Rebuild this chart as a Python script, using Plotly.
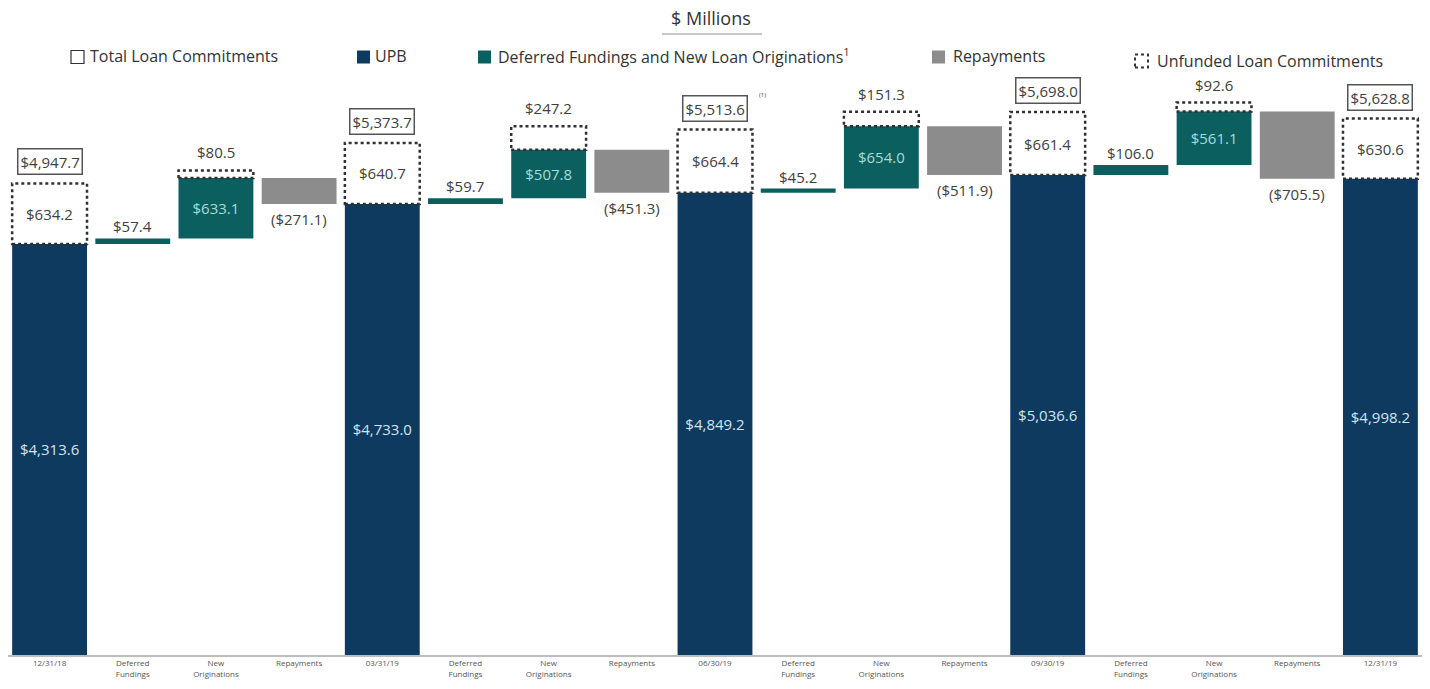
import plotly.graph_objects as go

# ---------------- data ----------------
categories = ["12/31/18", "Deferred<br>Fundings", "New<br>Originations", "Repayments",
              "03/31/19", "Deferred<br>Fundings", "New<br>Originations", "Repayments",
              "06/30/19", "Deferred<br>Fundings", "New<br>Originations", "Repayments",
              "09/30/19", "Deferred<br>Fundings", "New<br>Originations", "Repayments",
              "12/31/19"]
upb = [4313.6, 4733.0, 4849.2, 5036.6, 4998.2]
unfunded_quarter = [634.2, 640.7, 664.4, 661.4, 630.6]
total_commitments = [4947.7, 5373.7, 5513.6, 5698.0, 5628.8]
deferred_fundings = [57.4, 59.7, 45.2, 106.0]
new_originations = [633.1, 507.8, 654.0, 561.1]
new_unfunded = [80.5, 247.2, 151.3, 92.6]
repayments = [-271.1, -451.3, -511.9, -705.5]

# ---------------- style ----------------
NAVY = "#0d3a5e"
TEAL = "#0b5f5f"
GRAY = "#8c8c8c"
TXT = "#404040"
FONT = "Open Sans"
LBL = 15
W, H = 1430, 689
ML, MR, MT, MB = 8, 8, 60, 34
SCALE = 0.0953  # px per $M
YMAX = (H - MT - MB) / SCALE


def money(v):
    s = "${:,.1f}".format(abs(v))
    return "(" + s + ")" if v < 0 else s


def px(x):
    return (x - ML) / (W - ML - MR)


def py(y):
    return (H - MB - y) / (H - MT - MB)


q_x = [4 * i for i in range(len(upb))]
d_x = [4 * i + 1 for i in range(len(deferred_fundings))]
n_x = [4 * i + 2 for i in range(len(new_originations))]
r_x = [4 * i + 3 for i in range(len(repayments))]

d_base = [upb[i] for i in range(len(deferred_fundings))]
n_base = [upb[i] + deferred_fundings[i] for i in range(len(new_originations))]
n_top = [n_base[i] + new_originations[i] for i in range(len(new_originations))]
r_base = [n_top[i] + repayments[i] for i in range(len(repayments))]

fig = go.Figure()
BW = 0.9

fig.add_trace(go.Bar(x=q_x, y=upb, width=BW, marker=dict(color=NAVY, line=dict(width=0)),
                     text=[money(v) for v in upb], textposition="inside",
                     insidetextanchor="middle",
                     textfont=dict(color="#d4e3f0", size=LBL, family=FONT),
                     showlegend=False, hoverinfo="skip"))
fig.add_trace(go.Bar(x=d_x, y=deferred_fundings, base=d_base, width=BW,
                     marker=dict(color=TEAL, line=dict(width=0)), showlegend=False,
                     hoverinfo="skip"))
fig.add_trace(go.Bar(x=n_x, y=new_originations, base=n_base, width=BW,
                     marker=dict(color=TEAL, line=dict(width=0)),
                     text=[money(v) for v in new_originations], textposition="inside",
                     insidetextanchor="middle",
                     textfont=dict(color="#a6dcd8", size=LBL, family=FONT),
                     showlegend=False, hoverinfo="skip"))
fig.add_trace(go.Bar(x=r_x, y=[-v for v in repayments], base=r_base, width=BW,
                     marker=dict(color=GRAY, line=dict(width=0)), showlegend=False,
                     hoverinfo="skip"))

shapes = []
ann = []
dot = dict(color="#303030", width=2.5, dash="dot")


def A(**kw):
    kw.setdefault("showarrow", False)
    kw.setdefault("xanchor", "center")
    kw.setdefault("yanchor", "middle")
    ann.append(kw)


# quarter unfunded dotted boxes and totals
for i in range(len(upb)):
    x = q_x[i]
    shapes.append(dict(type="rect", xref="x", yref="y", x0=x - BW / 2, x1=x + BW / 2,
                       y0=upb[i], y1=upb[i] + unfunded_quarter[i], line=dot,
                       fillcolor="rgba(0,0,0,0)"))
    A(x=x, y=upb[i] + unfunded_quarter[i] / 2, xref="x", yref="y",
      text=money(unfunded_quarter[i]), font=dict(color=TXT, size=LBL, family=FONT))
    A(x=x, y=upb[i] + unfunded_quarter[i], xref="x", yref="y",
      text=money(total_commitments[i]), yanchor="bottom", yshift=8,
      bordercolor="#555555", borderwidth=1.5, borderpad=2, bgcolor="white",
      font=dict(color=TXT, size=LBL, family=FONT))

# new originations unfunded boxes
for i in range(len(new_originations)):
    x = n_x[i]
    top = n_top[i] + new_unfunded[i]
    shapes.append(dict(type="rect", xref="x", yref="y", x0=x - BW / 2, x1=x + BW / 2,
                       y0=n_top[i], y1=top, line=dot, fillcolor="rgba(0,0,0,0)"))
    A(x=x, y=top, xref="x", yref="y", text=money(new_unfunded[i]),
      yanchor="bottom", yshift=6, font=dict(color=TXT, size=LBL, family=FONT))

# deferred labels
for i in range(len(deferred_fundings)):
    A(x=d_x[i], y=d_base[i] + deferred_fundings[i], xref="x", yref="y",
      text=money(deferred_fundings[i]), yanchor="bottom", yshift=0,
      font=dict(color=TXT, size=LBL, family=FONT))

# repayment labels
for i in range(len(repayments)):
    A(x=r_x[i], y=r_base[i], xref="x", yref="y", text=money(repayments[i]),
      yanchor="top", yshift=-3, font=dict(color=TXT, size=LBL, family=FONT))

# footnote marker near 06/30/19 total
A(x=px(763), y=py(95), xref="paper", yref="paper", text="(1)",
  font=dict(color=TXT, size=6, family=FONT))

# title
A(x=px(711), y=py(18), xref="paper", yref="paper", text="$ Millions",
  font=dict(color="#333333", size=18, family=FONT))
shapes.append(dict(type="line", xref="paper", yref="paper", x0=px(662), x1=px(762),
                   y0=py(34), y1=py(34), line=dict(color="#c8c8c8", width=2)))

# legend
LEG_Y = 57


def leg_square(x0, y, fill, line):
    shapes.append(dict(type="rect", xref="paper", yref="paper", x0=px(x0), x1=px(x0 + 13),
                       y0=py(y + 6.5), y1=py(y - 6.5), fillcolor=fill, line=line))


def leg_text(x0, y, text):
    A(x=px(x0), y=py(y), xref="paper", yref="paper", text=text, xanchor="left",
      font=dict(color="#333333", size=16, family=FONT))


leg_square(71, LEG_Y, "white", dict(color="#333333", width=1.2))
leg_text(88, LEG_Y - 1, "Total Loan Commitments")
leg_square(357, LEG_Y, NAVY, dict(width=0))
leg_text(373, LEG_Y - 1, "UPB")
leg_square(478, LEG_Y, TEAL, dict(width=0))
leg_text(496, LEG_Y - 1, "Deferred Fundings and New Loan Originations<sup>1</sup>")
leg_square(932, LEG_Y, GRAY, dict(width=0))
leg_text(951, LEG_Y - 1, "Repayments")
leg_square(1135, LEG_Y + 4, "white", dict(color="#333333", width=2, dash="dot"))
leg_text(1155, LEG_Y + 4, "Unfunded Loan Commitments")

fig.update_layout(
    width=W, height=H,
    margin=dict(l=ML, r=MR, t=MT, b=MB),
    paper_bgcolor="white", plot_bgcolor="white",
    barmode="overlay",
    shapes=shapes, annotations=ann,
    font=dict(family=FONT, color=TXT),
    xaxis=dict(range=[-0.5, len(categories) - 0.5], tickmode="array",
               tickvals=list(range(len(categories))), ticktext=categories,
               tickfont=dict(size=8, color="#555555", family=FONT),
               showline=True, linecolor="#bdbdbd", linewidth=1.5,
               showgrid=False, zeroline=False, ticks=""),
    yaxis=dict(range=[0, YMAX], visible=False, showgrid=False, zeroline=False),
)

fig.write_html("out.html", config={"displayModeBar": False},
               post_script="document.body.style.margin='0';")
